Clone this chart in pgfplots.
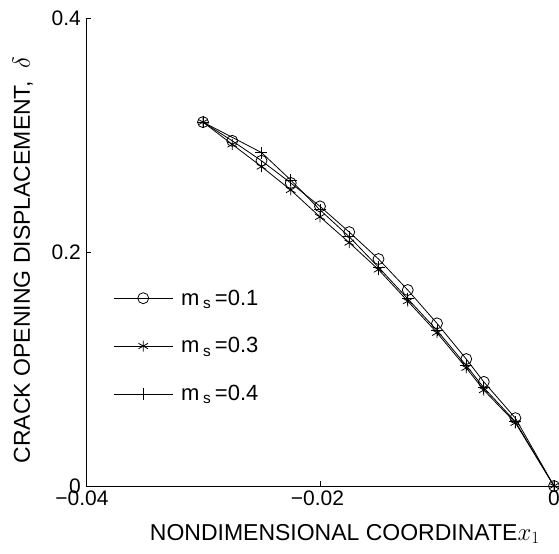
\documentclass[border=0pt]{standalone}
\usepackage{pgfplots}
\pgfplotsset{compat=1.18}
\usepackage{fontspec}
\setmainfont{Liberation Sans}
\usetikzlibrary{calc}
\begin{document}
\begin{tikzpicture}
\begin{axis}[
  name=ax,
  scale only axis, width=468bp, height=468bp,
  xmin=-0.04, xmax=0, ymin=0, ymax=0.4,
  scaled x ticks=false, scaled y ticks=false,
  axis lines=left, axis line style={-, line width=0.8bp},
  xtick={-0.04,-0.02,0}, xticklabels={\hspace*{-8bp}−0.04,\hspace*{-5bp}−0.02,0},
  ytick={0,0.2,0.4}, yticklabels={0,0.2,0.4},
  tick align=inside, major tick length=5bp, tick style={line width=0.8bp, black},
  xticklabel style={font=\fontsize{21bp}{24bp}\selectfont, inner sep=0pt, anchor=north, yshift=-5bp},
  yticklabel style={font=\fontsize{21bp}{24bp}\selectfont, inner sep=0pt, anchor=east, xshift=-5bp},
  xlabel={NONDIMENSIONAL COORDINATE$x_1$},
  ylabel={CRACK OPENING DISPLACEMENT,\ \ $\delta$},
  xlabel style={font=\fontsize{23bp}{26bp}\selectfont, at={(axis description cs:0.553,-0.1154)}, anchor=base, inner sep=0pt},
  ylabel style={font=\fontsize{23bp}{26bp}\selectfont, at={(axis description cs:-0.1197,0.483)}, anchor=base, inner sep=0pt},
  legend cell align=left,
  legend image code/.code={\draw[mark repeat=2,mark phase=2,#1] plot coordinates {(0bp,0bp) (29.5bp,0bp) (59bp,0bp)};},
  legend style={draw=none, fill=none, at={(axis description cs:0.058,0.424)}, anchor=north west,
    font=\fontsize{22bp}{25bp}\selectfont, row sep=27bp, column sep=6bp, inner sep=0pt,
    nodes={inner sep=2bp}},
  every axis plot/.append style={black, line width=0.8bp, mark options={solid, line width=0.8bp}},
  clip=false,
]
\addplot[mark=o, mark size=5.5bp] coordinates {
(-0.03,0.311) (-0.0275,0.295) (-0.025,0.278) (-0.0225,0.259) (-0.02,0.239)
(-0.0175,0.217) (-0.015,0.194) (-0.0125,0.1675) (-0.01,0.139) (-0.0075,0.1085)
(-0.006,0.089) (-0.0033,0.058) (0,0)};
\addlegendentry{m\,\textsubscript{s}\,=0.1}
\addplot[mark=asterisk, mark size=5.5bp] coordinates {
(-0.03,0.311) (-0.0275,0.292) (-0.025,0.273) (-0.0225,0.253) (-0.02,0.230)
(-0.0175,0.208) (-0.015,0.185) (-0.0125,0.158) (-0.01,0.131) (-0.0075,0.101)
(-0.006,0.082) (-0.0033,0.054) (0,0)};
\addlegendentry{m\,\textsubscript{s}\,=0.3}
\addplot[mark=+, mark size=6bp] coordinates {
(-0.03,0.311) (-0.025,0.285) (-0.0225,0.2615) (-0.02,0.236)
(-0.0175,0.213) (-0.015,0.187) (-0.0125,0.160) (-0.01,0.133) (-0.0075,0.103)
(-0.006,0.084) (-0.0033,0.055) (0,0)};
\addlegendentry{m\,\textsubscript{s}\,=0.4}
\end{axis}
\pgfresetboundingbox
\path[use as bounding box] ($(ax.south west)+(-86bp,-68bp)$) rectangle ($(ax.north east)+(5bp,18bp)$);
\end{tikzpicture}
\end{document}
